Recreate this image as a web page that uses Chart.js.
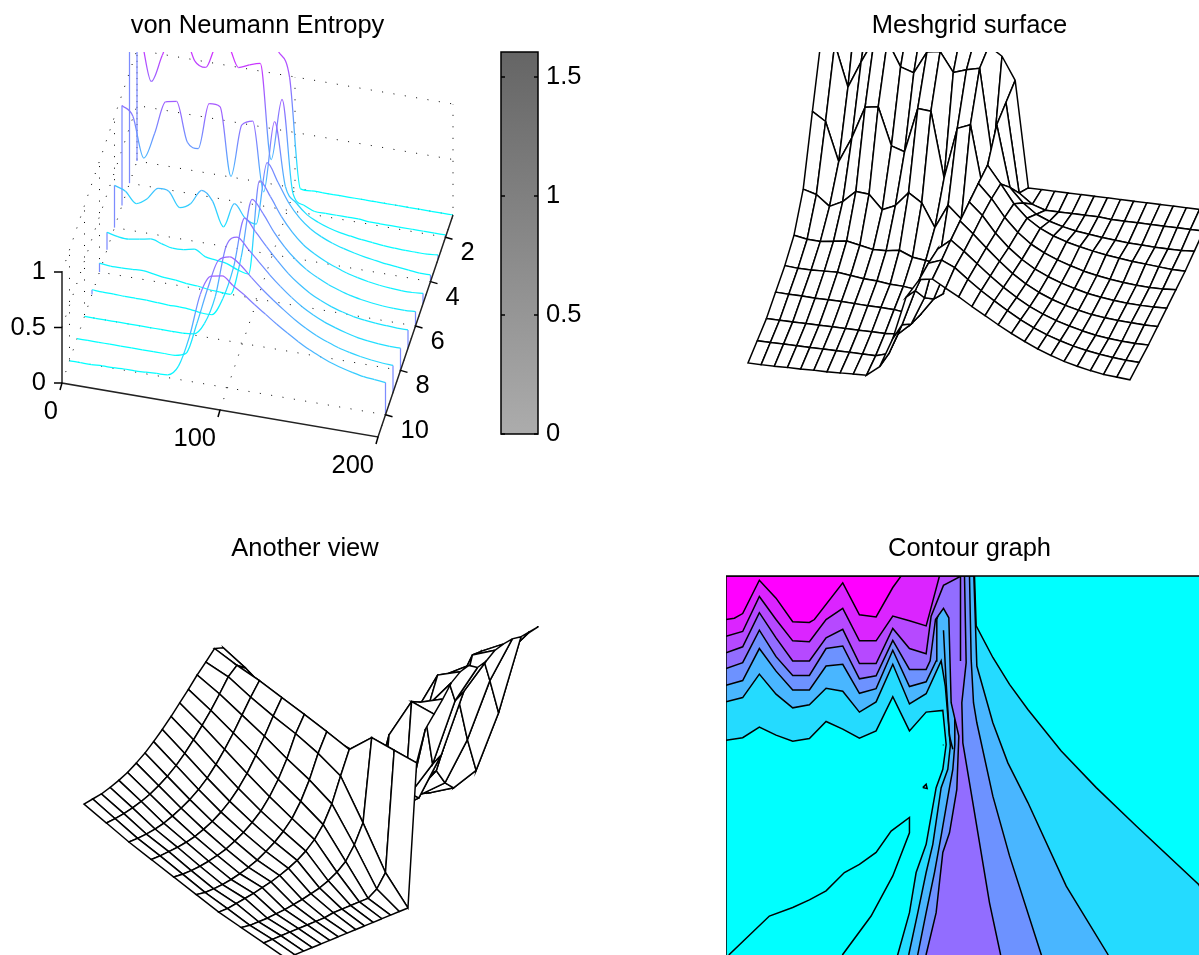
<!DOCTYPE html>
<html lang="en">
<head>
    <meta charset="UTF-8">
    <title>von Neumann Entropy</title>
    <script src="https://cdn.jsdelivr.net/npm/chart.js"></script>
    <style>
        html, body { margin: 0; padding: 0; background: #fff; overflow: hidden; width: 1199px; height: 955px; }
        .panel { position: absolute; }
    </style>
</head>
<body>

<div class="panel" style="left:0;top:0;width:515px;height:490px"><canvas id="entropyChart"></canvas></div>
<div class="panel" style="left:499px;top:30px;width:103px;height:430px"><canvas id="colorbarChart"></canvas></div>
<div class="panel" style="left:726px;top:0;width:487px;height:440px"><canvas id="meshChart"></canvas></div>
<div class="panel" style="left:0;top:523px;width:610px;height:432px"><canvas id="viewChart"></canvas></div>
<div class="panel" style="left:726px;top:523px;width:487px;height:437px"><canvas id="contourChart"></canvas></div>

<script>
// surface heights, one array per row, 30 columns
const row1 = [1.59,1.58,1.57,1.58,1.57,1.55,1.5,1.48,1.52,1.5,1.45,1.36,1.28,1.2,.99,0,0,0,0,0,0,0,0,0,0,0,0,0,0,0];
const row2 = [1.4,1.34,.95,1.2,1.43,1.43,1.2,1.16,1.37,1.39,1.21,1.25,1.28,.43,.99,.16,.07,.03,.03,.03,.03,.03,.02,.02,.02,.02,.02,.02,.02,.02];
const row3 = [.9,.82,.46,.7,1,1.02,.67,.63,1.05,1.04,.43,.91,.96,.34,.99,.42,.29,.2,.15,.115,.09,.075,.06,.05,.04,.035,.03,.03,.03,.04];
const row4 = [.38,.345,.25,.31,.42,.41,.28,.335,.47,.39,.175,.4,.285,.25,.82,.66,.49,.37,.29,.235,.195,.165,.14,.12,.105,.09,.08,.07,.06,.06];
const row5 = [.157,.135,.13,.147,.165,.14,.115,.12,.14,.09,.075,.06,.02,0,.857,.73,.57,.445,.35,.285,.235,.195,.16,.135,.115,.1,.09,.085,.085,.095];
const row6 = [.08,.07,.07,.075,.08,.065,.05,.045,.03,.025,.01,.005,0,.35,.89,.78,.63,.51,.415,.34,.285,.24,.205,.175,.155,.14,.13,.125,.125,.13];
const row7 = [.04,.035,.035,.03,.03,.03,.025,.02,.02,.015,0,0,.16,.465,.92,.815,.7,.59,.49,.41,.345,.295,.255,.225,.2,.185,.175,.17,.165,.165];
const row8 = [0,0,0,0,0,0,0,0,0,0,.01,.12,.38,.85,.95,.86,.76,.66,.57,.49,.42,.365,.32,.285,.255,.23,.215,.205,.2,.2];
const row9 = [0,0,0,0,0,0,0,0,0,0,.035,.32,.655,.925,.97,.915,.82,.73,.65,.575,.505,.445,.395,.355,.32,.295,.275,.26,.25,.245];
const row10 = [0,0,0,.005,.005,.01,.01,.015,.02,.025,.12,.4,.8,.98,1,.93,.865,.79,.72,.65,.585,.525,.47,.425,.385,.355,.33,.31,.3,.29];
const rows = [row1, row2, row3, row4, row5, row6, row7, row8, row9, row10];

// axis ticks of the first panel
const entropyXTicks = [0, 100, 200];
const entropyYTicks = [2, 4, 6, 8, 10];
const entropyZTicks = [0, 0.5, 1];
const colorbarTicks = [0, 0.5, 1, 1.5];
const colorbarMax = 1.605;

// contour boundaries, in column / row units
const level1X = [0,1,2,3,4,5,6,7,8,9,10,11,12,13,13.2,13,12.6,12,11.4,11,10.3,10.2,29.2,29.2,28.34,24.6,22.2,20.1,18.1,17,16,15,14.9,0];
const level1Y = [4.85,4.79,4.54,4.73,4.87,4.81,4.41,4.59,4.8,4.63,3.83,4.63,4.19,4.15,4.95,5.53,5.96,7.29,7.95,8.89,9.87,10,10,8.9,8.23,6.86,5.96,5.1,4.13,3.54,2.91,2.17,1,1];
const level2X = [0,1,2,3,4,5,6,7,8,9,10,11,12,12.9,13.15,13.45,13.3,12.9,12.4,12,11.5,10.96,10.85,23,22.9,20.4,18.1,16.9,16,15.04,14.86,0];
const level2Y = [3.95,3.85,3.3,3.77,4.09,4.02,3.63,3.7,4.19,3.95,3.07,4,3.76,2.99,3.58,4.98,5.53,5.96,7.29,7.95,8.89,9.87,10,10,9.87,8.27,6.31,5.38,4.44,3.11,1,1];
const level3X = [0,1,2,3,4,5,6,7,8,9,10,11,12,12.6,12.64,13.04,13.7,13.72,13.6,13.4,12.9,12.5,12,11.5,11.45,19,18.9,17,16,15.04,14.84,14.7,14.6,0];
const level3Y = [3.56,3.45,2.7,3.23,3.67,3.67,3.11,3.07,3.75,3.64,2.74,3.59,3.48,2.99,2.02,1.51,1.98,4.95,5.53,5.96,7.09,7.95,8.89,9.87,10,10,9.87,7.56,6.16,4.44,3.97,2.95,1,1];
const level4X = [0,1,2,3,4,5,6,7,8,9,10,11,12,12.24,12.56,13.04,13.36,13.5,13.96,13.84,13.4,13,12.6,12,11.95,16.5,16.46,15.8,14.8,14.2,14.14,14.4,14.3,0];
const level4Y = [3.17,3.03,2.27,2.89,3.33,3.33,2.7,2.64,3.41,3.34,2.51,3.19,3.19,2.99,2.02,1.76,1.98,3.97,4.75,6,7.02,7.48,8.89,9.87,10,10,9.87,8.66,6.31,4.91,3.97,3.03,1,1];
const level5X = [0,1,2,3,4,5,6,7,8,9,10,11,12,12.3,13.04,14,14.04,0];
const level5Y = [2.8,2.66,1.86,2.45,2.99,2.99,2.45,2.25,3.05,3.05,2.23,2.7,2.82,1.94,1.22,1.02,1,1];
const level6X = [0,1,2,3,4,5,6,7,8,9,10,11,12,12.16,12.8,0];
const level6Y = [2.41,2.3,1.48,2.02,2.52,2.54,2.02,1.76,2.52,2.52,1.94,2.05,2.17,1.94,1,1];
const level7X = [0,.5,1,2,3,4,5,5.3,7,8,9,10,10.5,0];
const level7Y = [2.02,1.99,1.88,1.1,1.52,2.07,2.09,2.02,1.16,1.91,1.96,1.27,1,1];
const levelColors = ['#24dbff', '#49b6ff', '#6d92ff', '#926dff', '#b649ff', '#db24ff', '#ff00ff'];
const levelXs = [level1X, level2X, level3X, level4X, level5X, level6X, level7X];
const levelYs = [level1Y, level2Y, level3Y, level4Y, level5Y, level6Y, level7Y];

// contour lines with the same colour on both sides
const lowLoopX = [.05,.2,2.6,4,5,6,7.1,8,9,9.9,11,11,10,8.7,7,6.9];
const lowLoopY = [10,9.87,8.97,8.77,8.59,8.38,7.95,7.76,7.48,6.98,6.66,7.02,8.03,8.97,9.87,10];
const spikeAX = [13.04,13.2,13.4,13.6];
const spikeAY = [2.27,3.5,4.75,5.06];
const spikeBX = [14.06,14.06];
const spikeBY = [1,2.99];
const speckAX = [11.8,12,12.06,11.8];
const speckAY = [5.96,5.88,5.98,5.96];
const speckBX = [13,13.04];
const speckBY = [4.96,4.96];

Chart.defaults.font.family = '"Liberation Sans", Arial, sans-serif';
Chart.defaults.color = '#000';

const LINE = 1.5;
const CURVE = 1.25;
const colCount = row1.length;

function pts(xs, ys) { return xs.map((x, i) => ({x: x, y: ys[i]})); }

function line(data, color, extra) {
    return Object.assign({data: data, showLine: true, borderColor: color, borderWidth: LINE, pointRadius: 0, fill: false, tension: 0}, extra);
}

// first dataset given ends up painted first
function inPaintOrder(list) {
    list.forEach((d, i) => { d.order = list.length - i; });
    return list;
}

function baseOptions(title, xMin, xMax, yMin, yMax, top) {
    return {
        responsive: true,
        maintainAspectRatio: false,
        animation: false,
        events: [],
        layout: {padding: 0},
        plugins: {
            legend: {display: false},
            tooltip: {enabled: false},
            title: {
                display: true,
                text: title,
                color: '#000',
                font: {size: 25.5, weight: 'normal', lineHeight: 1.2},
                padding: {top: 10.7, bottom: top - 41.3}
            }
        },
        scales: {
            x: {type: 'linear', display: false, min: xMin, max: xMax},
            y: {type: 'linear', display: false, min: yMin, max: yMax, reverse: true}
        }
    };
}

// ---- von Neumann Entropy: waterfall
function entropyPoint(x, y, z) {
    const d = 11 - y;
    return {x: 62 + 1.58 * x + 7.5 * d, y: 383 + 0.27 * x - 22.2 * d - 111 * z};
}

function coolColor(z) {
    const t = Math.min(1, Math.max(0, z / 1.6));
    return `rgb(${Math.round(255 * t)},${Math.round(255 * (1 - t))},255)`;
}

const entropyDatasets = [];
const dotted = {borderDash: [1, 10.5], borderWidth: 1};

// floor, back wall and side wall grids
entropyXTicks.forEach(x => {
    entropyDatasets.push(line([entropyPoint(x, 11, 0), entropyPoint(x, 1, 0), entropyPoint(x, 1, 1)], '#000', dotted));
});
entropyYTicks.concat([1]).forEach(y => {
    entropyDatasets.push(line([entropyPoint(200, y, 0), entropyPoint(0, y, 0), entropyPoint(0, y, 1)], '#000', dotted));
});
entropyZTicks.slice(1).forEach(z => {
    entropyDatasets.push(line([entropyPoint(0, 11, z), entropyPoint(0, 1, z), entropyPoint(200, 1, z)], '#000', dotted));
});

rows.forEach((row, r) => {
    const y = r + 1;
    const curve = row.map((z, c) => entropyPoint(c * 200 / (colCount - 1), y, z));
    entropyDatasets.push(line([entropyPoint(0, y, 0), curve[0]], '#7d8cff', {borderWidth: CURVE}));
    entropyDatasets.push(line([curve[curve.length - 1], entropyPoint(200, y, 0)], '#7d8cff', {borderWidth: CURVE}));
    entropyDatasets.push(line(curve, '#00ffff', {
        borderWidth: CURVE,
        cubicInterpolationMode: 'monotone',
        segment: {
            borderColor: ctx => {
                const g = ctx.chart.ctx.createLinearGradient(ctx.p0.x, ctx.p0.y, ctx.p1.x, ctx.p1.y);
                g.addColorStop(0, coolColor(row[ctx.p0DataIndex]));
                g.addColorStop(1, coolColor(row[ctx.p1DataIndex]));
                return g;
            }
        }
    }));
});

// axis lines and ticks
entropyDatasets.push(line([entropyPoint(0, 11, 1), entropyPoint(0, 11, 0), entropyPoint(200, 11, 0), entropyPoint(200, 1, 0)], '#222'));
entropyXTicks.forEach(x => {
    const p = entropyPoint(x, 11, 0);
    entropyDatasets.push(line([p, {x: p.x - 2, y: p.y + 7}], '#000'));
});
entropyYTicks.forEach(y => {
    const p = entropyPoint(200, y, 0);
    entropyDatasets.push(line([p, {x: p.x + 7, y: p.y + 2}], '#000'));
});
entropyZTicks.forEach(z => {
    const p = entropyPoint(0, 11, z);
    entropyDatasets.push(line([p, {x: p.x - 8, y: p.y}], '#000'));
});

const entropyLabels = {
    id: 'entropyLabels',
    afterDraw(chart) {
        const {ctx, scales: {x: sx, y: sy}} = chart;
        const put = (text, p, dx, dy, align) => {
            ctx.textAlign = align;
            ctx.fillText(text, sx.getPixelForValue(p.x) + dx, sy.getPixelForValue(p.y) + dy);
        };
        ctx.save();
        ctx.fillStyle = '#000';
        ctx.font = '25.5px "Liberation Sans"';
        ctx.textBaseline = 'middle';
        entropyXTicks.forEach(x => put(String(x), entropyPoint(x, 11, 0), -4, 29, 'right'));
        entropyYTicks.forEach(y => put(String(y), entropyPoint(200, y, 0), 15, 16, 'left'));
        entropyZTicks.forEach(z => put(String(z), entropyPoint(0, 11, z), -16, 0, 'right'));
        ctx.restore();
    }
};

new Chart(document.getElementById('entropyChart'), {
    type: 'scatter',
    data: {datasets: inPaintOrder(entropyDatasets)},
    options: baseOptions('von Neumann Entropy', 0, 515, 52, 490, 52),
    plugins: [entropyLabels]
});

// ---- colorbar
new Chart(document.getElementById('colorbarChart'), {
    type: 'bar',
    data: {
        labels: [''],
        datasets: [{
            data: [[0, colorbarMax]],
            barPercentage: 1,
            categoryPercentage: 1,
            backgroundColor: ctx => {
                const area = ctx.chart.chartArea;
                if (!area) return '#888';
                const g = ctx.chart.ctx.createLinearGradient(0, area.bottom, 0, area.top);
                g.addColorStop(0, '#acacac');
                g.addColorStop(1, '#656565');
                return g;
            }
        }]
    },
    options: {
        responsive: true,
        maintainAspectRatio: false,
        animation: false,
        events: [],
        layout: {padding: {left: 2, top: 22, bottom: 26}},
        plugins: {legend: {display: false}, tooltip: {enabled: false}},
        scales: {
            x: {display: false},
            y: {
                position: 'right',
                min: 0,
                max: colorbarMax,
                afterBuildTicks: s => { s.ticks = colorbarTicks.map(v => ({value: v})); },
                afterFit: s => { s.width = 64; },
                grid: {display: false},
                border: {display: false},
                ticks: {font: {size: 25.5}, color: '#000', padding: 0, callback: v => String(v)}
            }
        }
    },
    plugins: [{
        id: 'colorbarFrame',
        afterDraw(chart) {
            const {ctx, chartArea: a, scales: {y}} = chart;
            ctx.save();
            ctx.strokeStyle = '#000';
            ctx.lineWidth = LINE;
            ctx.strokeRect(a.left, a.top, a.right - a.left, a.bottom - a.top);
            colorbarTicks.forEach(v => {
                const py = y.getPixelForValue(v);
                ctx.beginPath();
                ctx.moveTo(a.left, py); ctx.lineTo(a.left + 4, py);
                ctx.moveTo(a.right, py); ctx.lineTo(a.right - 4, py);
                ctx.stroke();
            });
            ctx.restore();
        }
    }]
});

// ---- wire meshes: one white quad per grid cell, painted back to front
function meshDatasets(project, rowOrder) {
    const list = [];
    rowOrder.forEach(r => {
        for (let c = 0; c < colCount - 1; c++) {
            const cell = [
                project(c, r, rows[r][c]),
                project(c + 1, r, rows[r][c + 1]),
                project(c + 1, r + 1, rows[r + 1][c + 1]),
                project(c, r + 1, rows[r + 1][c]),
                project(c, r, rows[r][c])
            ];
            list.push(line(cell, '#000', {fill: 'shape', backgroundColor: '#fff'}));
        }
    });
    return inPaintOrder(list);
}

// r is the zero based row index
function meshPoint(c, r, z) {
    const d = 9 - r;
    return {x: 748 + 13.17 * c + 9.2 * d, y: 363 + 1.65 * c - 22.2 * d - 107 * z};
}

function viewPoint(c, r, z) {
    const d = 9 - r;
    return {x: 84 - 8.7 * (c - 29) + 22.46 * d, y: 845.5 + 3.6 * (c - 29) + 12.54 * d - 143 * z};
}

new Chart(document.getElementById('meshChart'), {
    type: 'scatter',
    data: {datasets: meshDatasets(meshPoint, [0, 1, 2, 3, 4, 5, 6, 7, 8])},
    options: baseOptions('Meshgrid surface', 726, 1213, 52, 440, 52)
});

new Chart(document.getElementById('viewChart'), {
    type: 'scatter',
    data: {datasets: meshDatasets(viewPoint, [8, 7, 6, 5, 4, 3, 2, 1, 0])},
    options: baseOptions('Another view', 0, 610, 575, 955, 52)
});

// ---- contour graph
const contourDatasets = [
    line(pts([0, 29.2, 29.2, 0], [1, 1, 10, 10]), '#00ffff', {fill: 'shape', backgroundColor: '#00ffff'})
];
levelXs.forEach((xs, i) => {
    contourDatasets.push(line(pts(xs, levelYs[i]), '#000', {fill: 'shape', backgroundColor: levelColors[i]}));
});
[[lowLoopX, lowLoopY], [spikeAX, spikeAY], [spikeBX, spikeBY], [speckAX, speckAY], [speckBX, speckBY]].forEach(([xs, ys]) => {
    contourDatasets.push(line(pts(xs, ys), '#000'));
});
contourDatasets.push(line(pts([0, 29.2], [1, 1]), '#000', {clip: false}));
contourDatasets.push(line(pts([0, 0], [1, 10]), '#000', {clip: false}));

new Chart(document.getElementById('contourChart'), {
    type: 'scatter',
    data: {datasets: inPaintOrder(contourDatasets)},
    options: baseOptions('Contour graph', 0, 29.2, 1, 10, 53)
});
</script>

</body>
</html>
